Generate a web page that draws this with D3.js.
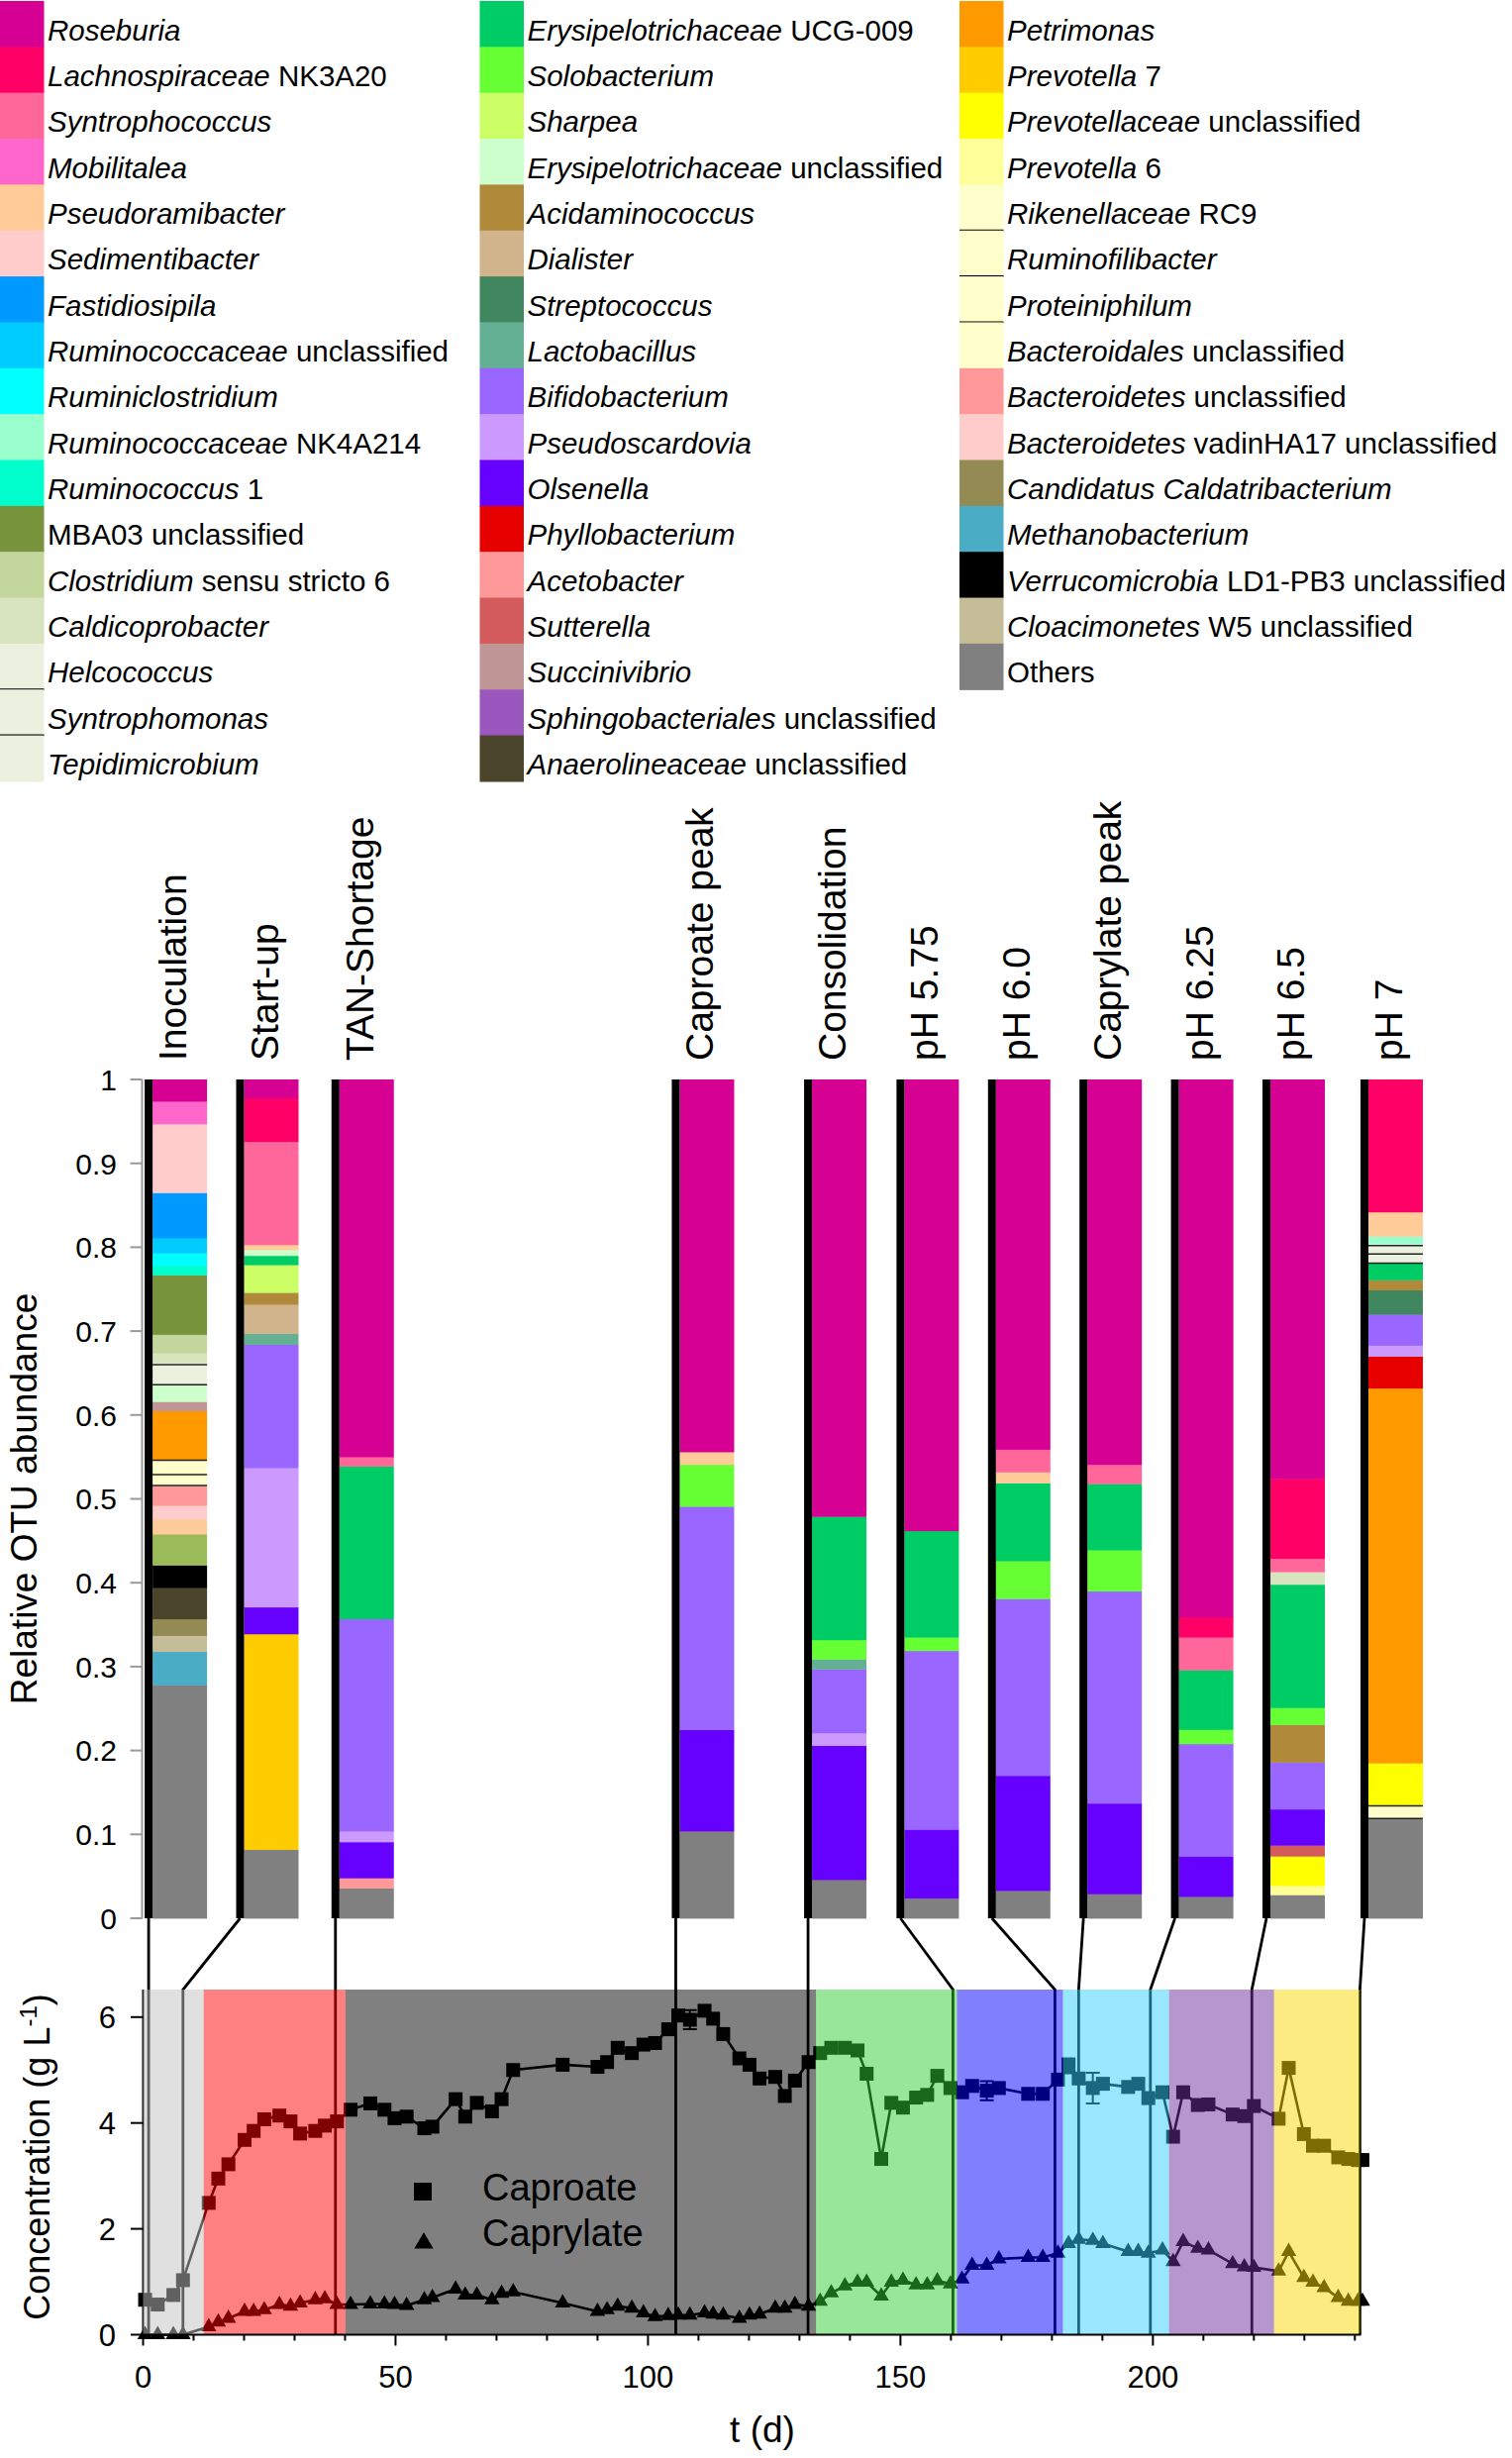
<!DOCTYPE html>
<html><head><meta charset="utf-8">
<script src="https://cdn.jsdelivr.net/npm/d3@7"></script>
<style>
body{margin:0;background:#fff}
svg{display:block}
text{font-family:"Liberation Sans",Arial,Helvetica,sans-serif;white-space:pre}
</style>
</head><body>
<svg id="c" width="1527" height="2482"></svg>
<script>
// ---------------- DATA ----------------
const legendNames = [
 "Roseburia","Lachnospiraceae NK3A20","Syntrophococcus","Mobilitalea","Pseudoramibacter","Sedimentibacter",
 "Fastidiosipila","Ruminococcaceae unclassified","Ruminiclostridium","Ruminococcaceae NK4A214","Ruminococcus 1",
 "MBA03 unclassified","Clostridium sensu stricto 6","Caldicoprobacter","Helcococcus","Syntrophomonas","Tepidimicrobium",
 "Erysipelotrichaceae UCG-009","Solobacterium","Sharpea","Erysipelotrichaceae unclassified","Acidaminococcus","Dialister",
 "Streptococcus","Lactobacillus","Bifidobacterium","Pseudoscardovia","Olsenella","Phyllobacterium","Acetobacter",
 "Sutterella","Succinivibrio","Sphingobacteriales unclassified","Anaerolineaceae unclassified",
 "Petrimonas","Prevotella 7","Prevotellaceae unclassified","Prevotella 6","Rikenellaceae RC9","Ruminofilibacter",
 "Proteiniphilum","Bacteroidales unclassified","Bacteroidetes unclassified","Bacteroidetes vadinHA17 unclassified",
 "Candidatus Caldatribacterium","Methanobacterium","Verrucomicrobia LD1-PB3 unclassified","Cloacimonetes W5 unclassified","Others"];
const legendColors = [
 "#d60093","#ff0066","#ff6699","#ff66cc","#ffcc99","#ffcccc",
 "#0099ff","#00ccff","#00ffff","#99ffcc","#00ffcc",
 "#77933c","#c3d69b","#d7e4bd","#ebf1de","#ebf1de","#ebf1de",
 "#00cc66","#66ff33","#ccff66","#ccffcc","#b08a3a","#d2b48c",
 "#40875f","#63b095","#9966ff","#cc99ff","#6600ff","#e60000","#ff9999",
 "#d45b5b","#c09696","#9a57bd","#4a452a",
 "#ff9900","#ffcc00","#ffff00","#ffff99","#ffffcc","#ffffcc",
 "#ffffcc","#ffffcc","#ff9999","#ffcccc",
 "#948a54","#4bacc6","#000000","#c4bd97","#808080"];
const legendColumnCounts = [17, 17, 15];
const unlistedTaxa = ["Unlisted taxon"];
const unlistedColors = ["#9bbb59"];

const phaseNames = ["Inoculation","Start-up","TAN-Shortage","Caproate peak","Consolidation","pH 5.75","pH 6.0","Caprylate peak","pH 6.25","pH 6.5","pH 7"];
const sampleDays = [1.1, 7.9, 38.1, 105.5, 131.7, 160.4, 180.6, 185.3, 199.5, 219.6, 241.0];

// stacked compositions, bottom -> top: [genus, relative abundance]
const inoculation = [["Others",0.278],["Methanobacterium",0.040],["Cloacimonetes W5 unclassified",0.019],["Candidatus Caldatribacterium",0.020],["Anaerolineaceae unclassified",0.037],["Verrucomicrobia LD1-PB3 unclassified",0.027],["Unlisted taxon",0.037],["Pseudoramibacter",0.018],["Bacteroidetes vadinHA17 unclassified",0.016],["Bacteroidetes unclassified",0.024],["Proteiniphilum",0.013],["Ruminofilibacter",0.017],["Rikenellaceae RC9",0.001],["Petrimonas",0.058],["Succinivibrio",0.011],["Erysipelotrichaceae unclassified",0.020],["Syntrophomonas",0.024],["Helcococcus",0.002],["Caldicoprobacter",0.012],["Clostridium sensu stricto 6",0.022],["MBA03 unclassified",0.071],["Ruminococcus 1",0.011],["Ruminiclostridium",0.015],["Ruminococcaceae unclassified",0.018],["Fastidiosipila",0.054],["Sedimentibacter",0.082],["Mobilitalea",0.027],["Roseburia",0.026]];
const startUp = [["Others",0.082],["Prevotella 7",0.257],["Olsenella",0.032],["Pseudoscardovia",0.166],["Bifidobacterium",0.147],["Lactobacillus",0.013],["Dialister",0.035],["Acidaminococcus",0.014],["Sharpea",0.033],["Erysipelotrichaceae UCG-009",0.011],["Erysipelotrichaceae unclassified",0.007],["Pseudoramibacter",0.006],["Syntrophococcus",0.123],["Lachnospiraceae NK3A20",0.052],["Roseburia",0.022]];
const tanShortage = [["Others",0.036],["Acetobacter",0.012],["Olsenella",0.043],["Pseudoscardovia",0.013],["Bifidobacterium",0.253],["Erysipelotrichaceae UCG-009",0.182],["Syntrophococcus",0.011],["Roseburia",0.450]];
const caproatePeak = [["Others",0.104],["Olsenella",0.121],["Bifidobacterium",0.266],["Solobacterium",0.050],["Pseudoramibacter",0.015],["Roseburia",0.444]];
const consolidation = [["Others",0.046],["Olsenella",0.160],["Pseudoscardovia",0.015],["Bifidobacterium",0.076],["Lactobacillus",0.012],["Solobacterium",0.023],["Erysipelotrichaceae UCG-009",0.147],["Roseburia",0.521]];
const ph575 = [["Others",0.024],["Olsenella",0.082],["Bifidobacterium",0.213],["Solobacterium",0.016],["Erysipelotrichaceae UCG-009",0.127],["Roseburia",0.538]];
const ph60 = [["Others",0.033],["Olsenella",0.137],["Bifidobacterium",0.211],["Solobacterium",0.045],["Erysipelotrichaceae UCG-009",0.093],["Pseudoramibacter",0.013],["Syntrophococcus",0.027],["Roseburia",0.441]];
const caprylatePeak = [["Others",0.029],["Olsenella",0.108],["Bifidobacterium",0.253],["Solobacterium",0.049],["Erysipelotrichaceae UCG-009",0.079],["Syntrophococcus",0.023],["Roseburia",0.459]];
const ph625 = [["Others",0.026],["Olsenella",0.048],["Bifidobacterium",0.134],["Solobacterium",0.017],["Erysipelotrichaceae UCG-009",0.071],["Syntrophococcus",0.039],["Lachnospiraceae NK3A20",0.024],["Roseburia",0.641]];
const ph65 = [["Others",0.028],["Prevotella 6",0.011],["Prevotellaceae unclassified",0.035],["Sutterella",0.013],["Olsenella",0.043],["Bifidobacterium",0.056],["Acidaminococcus",0.045],["Solobacterium",0.020],["Erysipelotrichaceae UCG-009",0.147],["Caldicoprobacter",0.015],["Syntrophococcus",0.016],["Lachnospiraceae NK3A20",0.095],["Roseburia",0.476]];
const ph7 = [["Others",0.119],["Ruminofilibacter",0.015],["Rikenellaceae RC9",0.001],["Prevotellaceae unclassified",0.050],["Petrimonas",0.447],["Phyllobacterium",0.038],["Pseudoscardovia",0.013],["Bifidobacterium",0.037],["Streptococcus",0.029],["Acidaminococcus",0.012],["Erysipelotrichaceae UCG-009",0.020],["Tepidimicrobium",0.011],["Syntrophomonas",0.010],["Helcococcus",0.002],["Ruminococcaceae NK4A214",0.009],["Pseudoramibacter",0.029],["Lachnospiraceae NK3A20",0.158]];
const compositions = [inoculation, startUp, tanShortage, caproatePeak, consolidation, ph575, ph60, caprylatePeak, ph625, ph65, ph7];

const barTicks = [0,0.1,0.2,0.3,0.4,0.5,0.6,0.7,0.8,0.9,1];
const barTickLabels = ["0","0.1","0.2","0.3","0.4","0.5","0.6","0.7","0.8","0.9","1"];

// concentration time series (g/L)
const days = [0.4,2.9,6.0,7.9,13.0,14.9,16.9,20.1,21.9,24.0,27.0,29.2,31.1,34.1,36.0,38.4,41.1,45.0,47.8,49.8,52.2,55.7,57.3,61.9,63.8,66.1,69.1,71.0,73.3,83.1,90.0,91.9,94.0,96.8,99.1,101.4,104.0,106.0,108.3,111.2,112.9,114.9,118.1,120.1,122.1,125.2,127.1,129.1,131.8,134.1,136.3,139.0,141.5,143.3,146.2,148.2,150.5,153.1,155.3,157.3,159.9,162.2,164.2,167.1,169.5,175.3,178.2,181.2,183.3,185.3,188.1,190.1,195.1,197.1,199.1,201.9,204.0,206.0,208.9,211.0,215.8,218.1,220.0,224.9,226.9,229.9,231.7,233.9,236.7,238.7,240.6,241.5];
const caproate = [0.66,0.57,0.75,1.03,2.49,2.95,3.22,3.68,3.85,4.07,4.14,4.03,3.80,3.85,3.95,4.03,4.25,4.37,4.25,4.09,4.12,3.90,3.93,4.45,4.12,4.38,4.22,4.45,5.00,5.10,5.06,5.15,5.42,5.32,5.48,5.51,5.77,6.03,5.95,6.12,5.97,5.68,5.22,5.10,4.84,4.87,4.51,4.80,5.15,5.32,5.42,5.42,5.37,4.93,3.32,4.38,4.29,4.48,4.53,4.89,4.66,4.58,4.70,4.61,4.66,4.55,4.55,4.82,5.08,4.84,4.66,4.74,4.68,4.74,4.47,4.58,3.74,4.58,4.34,4.35,4.16,4.13,4.32,4.08,5.04,3.79,3.57,3.57,3.35,3.32,3.30,3.30];
const caprylate = [0,0,0,0,0.15,0.24,0.31,0.44,0.44,0.47,0.57,0.54,0.60,0.66,0.68,0.57,0.57,0.58,0.58,0.57,0.55,0.66,0.70,0.86,0.75,0.75,0.66,0.78,0.81,0.60,0.44,0.47,0.54,0.50,0.41,0.34,0.36,0.37,0.37,0.41,0.39,0.37,0.31,0.37,0.39,0.50,0.50,0.57,0.54,0.63,0.79,0.92,0.99,0.99,0.73,0.99,1.03,0.94,0.94,1.02,0.96,1.05,1.31,1.31,1.43,1.46,1.46,1.54,1.72,1.80,1.78,1.72,1.57,1.57,1.54,1.60,1.38,1.76,1.63,1.60,1.34,1.28,1.27,1.20,1.57,1.08,0.99,0.89,0.70,0.63,0.63,0.63];
const errorDays = [108.3, 167.1, 183.3, 188.1];
const caproateErr = [0.18, 0.18, 0.14, 0.29];

const phaseStart = [0, 12.0, 40.1, 133.3, 161.2, 182.2, 203.2, 224.0];
const phaseEndDay = 241;
const phaseBase = ["rgb(193,193,193)","rgb(255,1,1)","rgb(1,1,1)","rgb(49,205,49)","rgb(1,1,255)","rgb(51,205,255)","rgb(109,45,153)","rgb(247,215,1)"];

const concTicks = [0,2,4,6];
const dayMajor = [0,50,100,150,200];

// ---------------- STYLE / LAYOUT ----------------
const svg = d3.select("#c");
const colorOf = new Map(legendNames.map((n,i)=>[n, legendColors[i]]));
unlistedTaxa.forEach((n,i)=>colorOf.set(n, unlistedColors[i]));
const bordered = new Set(["Helcococcus","Syntrophomonas","Tepidimicrobium","Rikenellaceae RC9","Ruminofilibacter","Proteiniphilum"]);
const uprightAll = new Set(["MBA03 unclassified","Others"]);
const italicAll = new Set(["Candidatus Caldatribacterium"]);

// legend
const legendColX = [0, 484.5, 969];
const rowH = 46.35, swW = 44.5;
const lg = svg.append("g");
let idx = 0;
legendColumnCounts.forEach((count, c) => {
  for (let r = 0; r < count; r++, idx++) {
    const name = legendNames[idx];
    const top = 1 + r*rowH;
    lg.append("rect").attr("x", legendColX[c]).attr("y", top).attr("width", swW).attr("height", rowH+0.6)
      .attr("fill", colorOf.get(name));
    if (bordered.has(name) && r < count-1) {
      lg.append("line").attr("x1", legendColX[c]).attr("x2", legendColX[c]+swW)
        .attr("y1", top+rowH).attr("y2", top+rowH).attr("stroke","#000").attr("stroke-width",2);
    }
    let ital, rest;
    if (uprightAll.has(name)) { ital = ""; rest = name; }
    else if (italicAll.has(name)) { ital = name; rest = ""; }
    else { const k = name.indexOf(" "); ital = k<0 ? name : name.slice(0,k); rest = k<0 ? "" : name.slice(k); }
    const t = lg.append("text").attr("x", legendColX[c]+48).attr("y", top+39.5).attr("font-size", 29.5).attr("fill","#000");
    if (ital) t.append("tspan").attr("font-style","italic").text(ital);
    if (rest) t.append("tspan").text(rest);
  }
});

// scales
const x = d3.scaleLinear().domain([0, 241]).range([144.5, 1373.4]);
const yBar = d3.scaleLinear().domain([0, 1]).range([1937, 1090]);
const yConc = d3.scaleLinear().domain([0, 6.52]).range([2357.5, 2009]);

// bar anchors: sampling day, pushed apart to a minimum spacing
const pxToDays = px => x.invert(144.5 + px) - x.invert(144.5);
const minGap = pxToDays(92.4), lastGap = pxToDays(99);
const anchor = sampleDays.slice();
const nB = anchor.length;
for (let i = 1; i < nB; i++) anchor[i] = Math.max(anchor[i], anchor[i-1] + minGap);
anchor[nB-1] = sampleDays[nB-1] + 0.9;
for (let i = nB-2; i >= 0; i--) anchor[i] = Math.min(anchor[i], anchor[i+1] - (i === nB-2 ? lastGap : minGap));

// bar axis
const ba = svg.append("g");
ba.append("line").attr("x1",143.5).attr("x2",143.5).attr("y1",yBar(0)).attr("y2",yBar(1)).attr("stroke","#999").attr("stroke-width",2);
barTicks.forEach((v,i)=>{
  ba.append("line").attr("x1",131.5).attr("x2",143.5).attr("y1",yBar(v)).attr("y2",yBar(v)).attr("stroke","#999").attr("stroke-width",2);
  ba.append("text").attr("x",118).attr("y",yBar(v)).attr("dy","0.36em").attr("text-anchor","end").attr("font-size",30).text(barTickLabels[i]);
});
ba.append("text").attr("transform",`translate(37,${(yBar(0)+yBar(1))/2}) rotate(-90)`).attr("text-anchor","middle")
  .attr("font-size",37).text("Relative OTU abundance");

// bars
const bars = svg.append("g");
const barW = 55, stripW = 8;
compositions.forEach((comp, i) => {
  const S = x(anchor[i]);
  let cum = 0;
  const segs = comp.map(([g,v]) => { const s = {g, y0: cum, y1: cum+v}; cum += v; return s; });
  bars.selectAll(null).data(segs).enter().append("rect")
    .attr("x", S+stripW/2).attr("width", barW)
    .attr("y", d=>yBar(d.y1)).attr("height", d=>yBar(d.y0)-yBar(d.y1)+0.4)
    .attr("fill", d=>colorOf.get(d.g));
  segs.filter(d=>bordered.has(d.g)).forEach(d=>{
    bars.append("line").attr("x1",S+stripW/2).attr("x2",S+stripW/2+barW).attr("y1",yBar(d.y0)).attr("y2",yBar(d.y0))
      .attr("stroke","#222").attr("stroke-width",1.6);
  });
  bars.append("rect").attr("x",S-stripW/2).attr("width",stripW).attr("y",yBar(1)).attr("height",yBar(0)-yBar(1)).attr("fill","#000");
  bars.append("text").attr("transform",`translate(${S+38},1071) rotate(-90)`).attr("font-size",39).text(phaseNames[i]);
});

// ---- concentration panel ----
const cp = svg.append("g");
cp.append("line").attr("x1",x(0)).attr("x2",x(0)).attr("y1",yConc(0)).attr("y2",yConc(6.52)).attr("stroke","#000").attr("stroke-width",2);
sampleDays.forEach((d,i)=>{
  const S = x(anchor[i]);
  cp.append("path").attr("d",`M${S},${yBar(0)}L${x(d)},${yConc(6.52)}L${x(d)},${yConc(0)}`)
    .attr("fill","none").attr("stroke","#000").attr("stroke-width",2.8);
});
const lineGen = d3.line().x(d=>x(d[0])).y(d=>yConc(d[1]));
const capro = days.map((d,i)=>[d,caproate[i]]);
const capry = days.map((d,i)=>[d,caprylate[i]]);
cp.append("path").attr("d",lineGen(capro)).attr("fill","none").attr("stroke","#000").attr("stroke-width",2.6);
cp.append("path").attr("d",lineGen(capry)).attr("fill","none").attr("stroke","#000").attr("stroke-width",2.6);
errorDays.forEach((d,i)=>{
  const k = days.indexOf(d); const v = caproate[k], e = caproateErr[i];
  cp.append("path").attr("d",`M${x(d)},${yConc(v-e)}V${yConc(v+e)}M${x(d)-7},${yConc(v-e)}h14M${x(d)-7},${yConc(v+e)}h14`)
    .attr("stroke","#000").attr("stroke-width",2).attr("fill","none");
});
cp.selectAll(null).data(capro).enter().append("rect")
  .attr("x",d=>x(d[0])-7).attr("y",d=>yConc(d[1])-7).attr("width",14).attr("height",14).attr("fill","#000");
const tri = d3.symbol().type(d3.symbolTriangle).size(105);
cp.selectAll(null).data(capry).enter().append("path").attr("d",tri)
  .attr("transform",d=>`translate(${x(d[0])},${yConc(d[1])})`).attr("fill","#000");

// phase overlays (semi-transparent)
phaseStart.forEach((s,i)=>{
  const e = i < phaseStart.length-1 ? phaseStart[i+1] : phaseEndDay;
  cp.append("rect").attr("x",x(s)).attr("width",x(e)-x(s)).attr("y",yConc(6.52)).attr("height",yConc(0)-yConc(6.52))
    .attr("fill",phaseBase[i]).attr("fill-opacity",0.5);
});

// axes on top
cp.append("line").attr("x1",x(0)-1).attr("x2",x(241)+1).attr("y1",yConc(0)).attr("y2",yConc(0)).attr("stroke","#000").attr("stroke-width",2);
d3.range(0,241,10).forEach(d=>{
  const major = dayMajor.includes(d);
  cp.append("line").attr("x1",x(d)).attr("x2",x(d)).attr("y1",yConc(0)).attr("y2",yConc(0)+(major?11:6)).attr("stroke","#000").attr("stroke-width",2);
});
dayMajor.forEach(d=>{
  cp.append("text").attr("x",x(d)).attr("y",2411).attr("text-anchor","middle").attr("font-size",31).text(d);
});
concTicks.forEach(v=>{
  cp.append("line").attr("x1",132).attr("x2",x(0)).attr("y1",yConc(v)).attr("y2",yConc(v)).attr("stroke","#000").attr("stroke-width",2);
  cp.append("text").attr("x",117).attr("y",yConc(v)).attr("dy","0.36em").attr("text-anchor","end").attr("font-size",31).text(v);
});
const yt = cp.append("text").attr("transform",`translate(50,2178) rotate(-90)`).attr("text-anchor","middle").attr("font-size",36);
yt.append("tspan").text("Concentration (g L");
yt.append("tspan").attr("font-size",24).attr("dy",-13).text("-1");
yt.append("tspan").attr("dy",13).text(")");
cp.append("text").attr("x",770).attr("y",2466).attr("text-anchor","middle").attr("font-size",37).text("t (d)");

// in-plot legend
cp.append("rect").attr("x",418).attr("y",2204).attr("width",18).attr("height",18).attr("fill","#000");
cp.append("path").attr("d",d3.symbol().type(d3.symbolTriangle).size(160)).attr("transform","translate(428,2265)").attr("fill","#000");
cp.append("text").attr("x",487).attr("y",2221.5).attr("font-size",38).text("Caproate");
cp.append("text").attr("x",487).attr("y",2268).attr("font-size",38).text("Caprylate");
</script>
</body></html>
